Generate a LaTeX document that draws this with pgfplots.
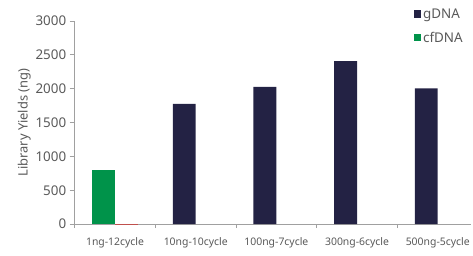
\documentclass[border=0pt]{standalone}
\usepackage{pgfplots}
\pgfplotsset{compat=1.18}
\usepackage{fontspec}
\setmainfont{Noto Sans}
\definecolor{navy}{HTML}{232244}
\definecolor{grn}{HTML}{00934A}
\definecolor{redb}{HTML}{C0504D}
\definecolor{txt}{HTML}{595959}
\definecolor{axc}{HTML}{A0A0A0}
\begin{document}
\begin{tikzpicture}
\begin{axis}[
  at={(0,0)}, anchor=south west,
  scale only axis, width=398bp, height=204bp,
  xmin=-0.5, xmax=4.414, ymin=0, ymax=3000,
  axis x line*=bottom, axis y line*=left,
  axis line style={axc, line width=0.8pt},
  ytick={0,500,...,3000},
  xtick={0,1,2,3,4},
  xticklabels={1ng-12cycle,10ng-10cycle,100ng-7cycle,300ng-6cycle,500ng-5cycle},
  minor xtick={-0.5,0.5,1.5,2.5,3.5},
  major x tick style={draw=none},
  minor x tick style={axc, line width=0.8pt},
  minor tick length=4bp,
  major y tick style={axc, line width=0.8pt},
  major tick length=5bp,
  tick align=outside,
  /pgf/number format/assume math mode=true,
  /pgf/number format/1000 sep={},
  yticklabel style={font=\fontsize{13.5}{15}\selectfont, text=txt},
  xticklabel style={font=\fontsize{10.5}{12}\selectfont, text=txt, yshift=-5bp},
  ylabel={Library Yields (ng)},
  ylabel style={font=\fontsize{13}{15}\selectfont, text=txt, yshift=-2bp},
  ybar, bar width=23bp,
  legend style={at={(rel axis cs:0.852,1.075)}, anchor=north west, draw=none, fill=none,
    font=\fontsize{13.5}{15}\selectfont, text=txt, row sep=8bp,
    legend cell align=left, inner sep=1bp},
  legend image code/.code={\fill[#1] (0bp,-3.5bp) rectangle (7.5bp,4bp);},
]
\addplot[fill=navy, draw=none, bar shift=-11.5bp] coordinates {(1,1775) (2,2025) (3,2405) (4,2005)};
\addlegendentry{gDNA}
\addplot[fill=grn, draw=none, bar shift=-11.5bp] coordinates {(0,805)};
\addlegendentry{cfDNA}
\addplot[fill=redb, draw=none, bar shift=11.5bp, forget plot] coordinates {(0,-10)};
\end{axis}
\path[use as bounding box] (-75bp,-32bp) rectangle (398bp,225bp);
\end{tikzpicture}
\end{document}
